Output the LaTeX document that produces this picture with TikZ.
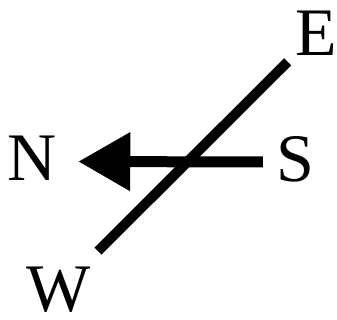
\documentclass[tikz,border=0pt]{standalone}
\usepackage{fontspec}
\setmainfont{Liberation Serif}
\usetikzlibrary{arrows.meta}

\begin{document}
\begin{tikzpicture}[
  x=1pt, y=-1pt,
  every node/.style={inner sep=0pt},
  letter/.style={font=\fontsize{68}{68}\selectfont},
  axisline/.style={draw=black, line width=10pt},
  flowarrow/.style={draw=black, line width=11pt,
      -{Triangle[length=52pt,width=56pt]}}
]
\useasboundingbox (0,0) rectangle (337,320);

% =========================================================
% compass letters
% =========================================================
\node[letter] (north) at (32.5,158.5) {N};
\node[letter] (south) at (295,159)    {S};
\node[letter] (east)  at (316,33.5)   {E};
\node[letter] (west)  at (59,290)     {W};

% W--E axis (diagonal bar)
\draw[axisline, shorten <=55pt, shorten >=40pt] (west.center) -- (east.center);

% S -> N arrow
\draw[flowarrow, shorten <=13pt, shorten >=21pt]
     ([yshift=-3pt]south.west) -- ([yshift=-3pt]north.east);

\end{tikzpicture}
\end{document}
